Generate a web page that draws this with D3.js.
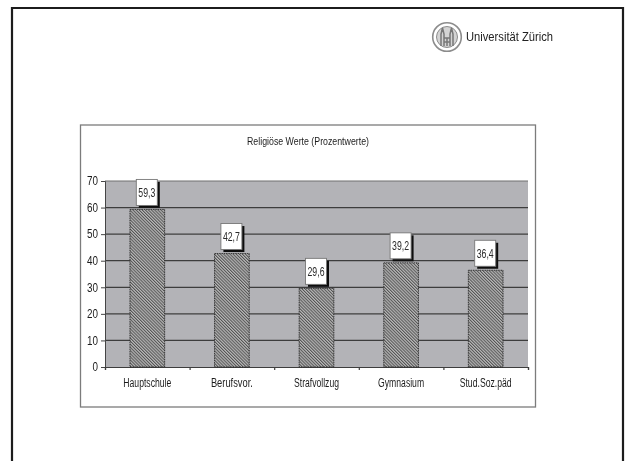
<!DOCTYPE html>
<html><head><meta charset="utf-8">
<script src="https://cdn.jsdelivr.net/npm/d3@7"></script>
<style>html,body{margin:0;padding:0;background:#fff}svg{display:block}text{font-family:"Liberation Sans",Arial,sans-serif}</style>
</head><body>
<script>
const categories = ["Hauptschule","Berufsvor.","Strafvollzug","Gymnasium","Stud.Soz.päd"];
const categoryWidths = [48,42,45,46,52];
const values = [59.3,42.7,29.6,39.2,36.4];
const valueLabels = ["59,3","42,7","29,6","39,2","36,4"];
const yTicks = [0,10,20,30,40,50,60,70];
const chartTitle = "Religiöse Werte (Prozentwerte)";
const logoText = "Universität Zürich";

const svg = d3.select("body").append("svg").attr("width",625).attr("height",461);
const defs = svg.append("defs");
const f = defs.append("filter").attr("id","soft").attr("x","-5%").attr("y","-5%").attr("width","110%").attr("height","110%");
f.append("feGaussianBlur").attr("stdDeviation",0.5);
const p = defs.append("pattern").attr("id","hatch").attr("width",2.2).attr("height",2.2)
  .attr("patternUnits","userSpaceOnUse").attr("patternTransform","rotate(-45)");
p.append("rect").attr("width",2.2).attr("height",2.2).attr("fill","#b8b8b8");
p.append("rect").attr("width",1).attr("height",2.2).attr("fill","#525252");

const root = svg.append("g").attr("filter","url(#soft)");
root.append("rect").attr("width",625).attr("height",461).attr("fill","#fff");

// slide frame
root.append("path").attr("d","M12 470V8H623V470").attr("fill","none").attr("stroke","#1c1c1c").attr("stroke-width",2.2);

// chart box
root.append("rect").attr("x",80.5).attr("y",125).attr("width",455).attr("height",282)
  .attr("fill","#fff").attr("stroke","#7c7c7c").attr("stroke-width",1.3);

const x = d3.scaleBand().domain(categories).range([105,528]).paddingInner(0.59).paddingOuter(0.295);
const y = d3.scaleLinear().domain([0,70]).range([367,181]);

root.append("text").attr("x",308).attr("y",144.5).attr("text-anchor","middle")
  .attr("font-size",11.5).attr("fill","#1c1c1c").attr("textLength",122).attr("lengthAdjust","spacingAndGlyphs").text(chartTitle);

root.append("rect").attr("x",105).attr("y",181).attr("width",423).attr("height",186).attr("fill","#b3b3b7");

root.selectAll("line.grid").data(yTicks.slice(1)).join("line").attr("class","grid")
  .attr("x1",105).attr("x2",528).attr("y1",d=>y(d)).attr("y2",d=>y(d))
  .attr("stroke",d=>d===70?"#707070":"#3e3e3e").attr("stroke-width",1.2);

const yAxis = d3.axisLeft(y).tickValues(yTicks).tickSize(4).tickPadding(3);
const ya = root.append("g").attr("transform","translate(105,0)").call(yAxis);
ya.selectAll("text").attr("font-size",12).attr("fill","#1c1c1c").attr("font-family","Liberation Sans")
  .attr("textLength",d=>d===0?5.5:11).attr("lengthAdjust","spacingAndGlyphs");
ya.selectAll("line,path").attr("stroke","#444");

const xAxis = d3.axisBottom(d3.scaleLinear().domain([0,5]).range([105,528])).ticks(5).tickSize(3).tickFormat("");
const xa = root.append("g").attr("transform","translate(0,367)").call(xAxis);
xa.selectAll("line,path").attr("stroke","#3e3e3e").attr("stroke-width",1.2);

root.selectAll("rect.bar").data(values).join("rect").attr("class","bar")
  .attr("x",(d,i)=>x(categories[i])).attr("width",x.bandwidth())
  .attr("y",d=>y(d)).attr("height",d=>y(0)-y(d))
  .attr("fill","url(#hatch)").attr("stroke","#2c2c2c").attr("stroke-width",0.9).attr("stroke-dasharray","1.5 0.8");

const lg = root.selectAll("g.lab").data(values).join("g").attr("class","lab")
  .attr("transform",(d,i)=>`translate(${x(categories[i])+x.bandwidth()/2-11},${y(d)-30})`);
lg.append("rect").attr("x",2.5).attr("y",2.5).attr("width",21).attr("height",26).attr("fill","#111");
lg.append("rect").attr("width",21).attr("height",26).attr("fill","#fff").attr("stroke","#777").attr("stroke-width",0.9);
lg.append("text").attr("x",10.5).attr("y",17.5).attr("text-anchor","middle").attr("font-size",12.5)
  .attr("fill","#2a2a2a").attr("textLength",17).attr("lengthAdjust","spacingAndGlyphs").text((d,i)=>valueLabels[i]);

root.selectAll("text.cat").data(categories).join("text").attr("class","cat")
  .attr("x",d=>x(d)+x.bandwidth()/2).attr("y",387).attr("text-anchor","middle")
  .attr("font-size",12).attr("fill","#1c1c1c")
  .attr("textLength",(d,i)=>categoryWidths[i]).attr("lengthAdjust","spacingAndGlyphs").text(d=>d);

// logo
const logo = root.append("g").attr("transform","translate(447,37)").attr("fill","none").attr("stroke","#8c8c8c");
logo.append("circle").attr("r",14.3).attr("stroke-width",1.6);
logo.append("circle").attr("r",10.5).attr("stroke-width",1).attr("fill","#d4d4d4");
logo.append("path").attr("d","M-6 9V-3L-4.5 -9L-3 -3V9M3 9V-3L4.5 -9L6 -3V9M-3 1H3M-3 5H3M0 1V9").attr("stroke","#777").attr("stroke-width",1.5);
root.append("text").attr("x",466).attr("y",41).attr("font-size",13).attr("fill","#222")
  .attr("font-family","Open Sans").attr("textLength",87).attr("lengthAdjust","spacingAndGlyphs").text(logoText);
</script>
</body></html>
